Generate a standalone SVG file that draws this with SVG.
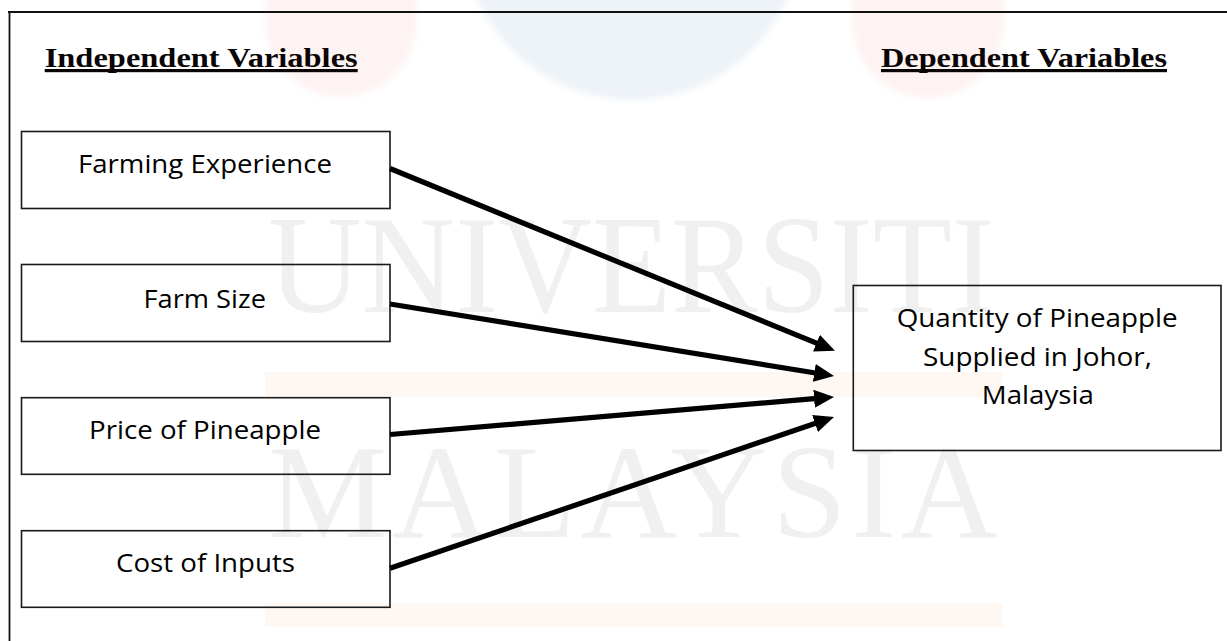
<svg xmlns="http://www.w3.org/2000/svg" width="1227" height="641" viewBox="0 0 1227 641">
<style>
  .box { fill: none; stroke: #1a1a1a; stroke-width: 1.6; }
  .lbl { font-family: "Open Sans", "Liberation Sans", sans-serif; font-size: 26px; font-weight: 500; fill: #000; text-anchor: start; }
  .head { font-family: "Liberation Serif", "Times New Roman", serif; font-size: 28px; font-weight: bold; fill: #0a0505; }
  .conn { fill: none; stroke: #000; stroke-width: 5.2; stroke-linecap: butt; }
  .wm { font-family: "Liberation Serif", "Times New Roman", serif; fill: #f0f0f0; }
</style>
<defs>
  <marker id="arrow" markerUnits="userSpaceOnUse" markerWidth="22" markerHeight="20" viewBox="0 0 22 20" refX="6" refY="9" orient="auto">
    <path d="M0,0 L20,9 L0,18 Z" fill="#000"/>
  </marker>
  <filter id="soft" x="-20%" y="-20%" width="140%" height="140%">
    <feGaussianBlur stdDeviation="3"/>
  </filter>
</defs>
<rect x="0" y="0" width="1227" height="641" fill="#ffffff"/>
<g id="watermark">
  <g filter="url(#soft)">
    <circle cx="632" cy="-70" r="170" fill="#eef3f8"/>
    <rect x="265" y="-80" width="152" height="177" rx="76" fill="#fef3f3"/>
    <rect x="852" y="-80" width="152" height="178" rx="76" fill="#fef3f3"/>
  </g>
  <rect x="265" y="372" width="737" height="25" fill="#fff8f2"/>
  <rect x="265" y="603" width="737" height="24" fill="#fff8f2"/>
  <text class="wm" x="268" y="312" font-size="139" textLength="727" lengthAdjust="spacingAndGlyphs">UNIVERSITI</text>
  <text class="wm" x="268" y="537" font-size="134" textLength="730" lengthAdjust="spacing">MALAYSIA</text>
</g>
<g id="frame">
  <line x1="8" y1="12" x2="1227" y2="12" stroke="#111" stroke-width="2.2"/>
  <line x1="9.5" y1="11" x2="9.5" y2="641" stroke="#111" stroke-width="1.8"/>
</g>
<g id="heading-independent">
  <text class="head" x="44.7" y="67" textLength="313" lengthAdjust="spacingAndGlyphs">Independent Variables</text>
  <rect x="44.7" y="69" width="313" height="3.2" fill="#0a0505"/>
</g>
<g id="heading-dependent">
  <text class="head" x="881" y="67" textLength="286" lengthAdjust="spacingAndGlyphs">Dependent Variables</text>
  <rect x="881" y="69" width="286" height="3.2" fill="#0a0505"/>
</g>
<g id="node-farming-experience">
  <rect class="box" x="21.5" y="131.5" width="368.5" height="77"/>
  <text class="lbl" x="78" y="173" textLength="254" lengthAdjust="spacingAndGlyphs">Farming Experience</text>
</g>
<g id="node-farm-size">
  <rect class="box" x="21.5" y="264.5" width="368.5" height="77"/>
  <text class="lbl" x="143.5" y="308" textLength="122.5" lengthAdjust="spacingAndGlyphs">Farm Size</text>
</g>
<g id="node-price">
  <rect class="box" x="21.5" y="397.7" width="368.5" height="76.6"/>
  <text class="lbl" x="89" y="439" textLength="232" lengthAdjust="spacingAndGlyphs">Price of Pineapple</text>
</g>
<g id="node-cost">
  <rect class="box" x="21.5" y="530.7" width="368.5" height="76.6"/>
  <text class="lbl" x="116" y="571.7" textLength="179" lengthAdjust="spacingAndGlyphs">Cost of Inputs</text>
</g>
<g id="node-quantity">
  <rect class="box" x="853.3" y="285.5" width="367.7" height="165"/>
  <text class="lbl" x="896.7" y="326.7" textLength="281" lengthAdjust="spacingAndGlyphs">Quantity of Pineapple</text>
  <text class="lbl" x="923" y="365.7" textLength="229" lengthAdjust="spacingAndGlyphs">Supplied in Johor,</text>
  <text class="lbl" x="981.8" y="404" textLength="112" lengthAdjust="spacingAndGlyphs">Malaysia</text>
</g>
<g id="connectors">
  <line class="conn" x1="390" y1="168.5" x2="822" y2="345.4" marker-end="url(#arrow)"/>
  <line class="conn" x1="390" y1="304" x2="820.2" y2="373.8" marker-end="url(#arrow)"/>
  <line class="conn" x1="390" y1="434.5" x2="820.05" y2="398.2" marker-end="url(#arrow)"/>
  <line class="conn" x1="390" y1="568.3" x2="820.75" y2="421.5" marker-end="url(#arrow)"/>
</g>
</svg>
